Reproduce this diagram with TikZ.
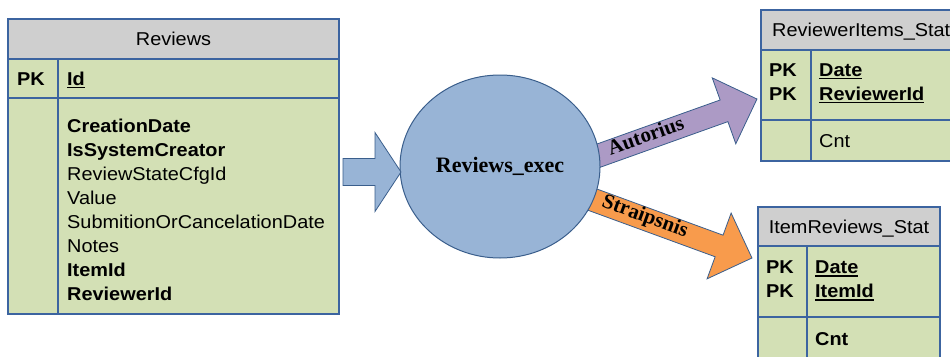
\documentclass[tikz,border=0pt]{standalone}
\usepackage{fontspec}
\setmainfont{Liberation Sans}[FakeStretch=1.07]
\newfontfamily\labelfont{Liberation Serif}
\usetikzlibrary{shapes.geometric}

\definecolor{tblblue}{HTML}{3C64A0}
\definecolor{hdrgray}{HTML}{CFCFCF}
\definecolor{fldgreen}{HTML}{D3E0B5}
\definecolor{execblue}{HTML}{98B4D6}
\definecolor{execedge}{HTML}{3A5E8C}
\definecolor{autpurple}{HTML}{AC9AC5}
\definecolor{strorange}{HTML}{F89B4C}

% underlined key column name
\newcommand\keyul[1]{\setbox0\hbox{#1}\rlap{\rule[-3.2pt]{\wd0}{1.6pt}}\box0}

\tikzset{
  tblline/.style={draw=tblblue, line width=1.2pt},
  txt/.style={inner sep=0pt, anchor=base west, font=\fontsize{18.6}{24}\selectfont},
  btxt/.style={txt, font=\fontsize{18.6}{24}\selectfont\bfseries},
  htxt/.style={inner sep=0pt, anchor=base, font=\fontsize{18.6}{24}\selectfont},
  lbl/.style={inner sep=0pt, anchor=base, font=\labelfont\fontsize{21}{24}\selectfont\bfseries},
  pics/blockarrow/.style args={#1/#2/#3/#4}{code={
    \path[pic actions] (0,-#2) -- ({#1-#4},-#2) -- ({#1-#4},-#3) -- (#1,0)
      -- ({#1-#4},#3) -- ({#1-#4},#2) -- (0,#2) -- cycle;}}
}

\begin{document}
\begin{tikzpicture}[x=1pt,y=-1pt]
\useasboundingbox (0,0) rectangle (950,356);
\clip (0,0) rectangle (950,356);

% ---------- table Reviews ----------
\node[fill=fldgreen, inner sep=0pt, anchor=north west, minimum width=331pt, minimum height=295pt] (reviews) at (8,19) {};
\fill[hdrgray] (8,19) rectangle (339,59);
\draw[tblline] (8,19) rectangle (339,314) (8,59) -- (339,59) (8,98) -- (339,98) (58,59) -- (58,314);
\node[htxt] (revtitle) at (173.5,45.7) {Reviews};
\node[btxt] (revpk) at (17,85) {PK};
\node[btxt] (revid) at (67,85) {\keyul{Id}};
\foreach \t [count=\i from 0] in {{\bfseries CreationDate},{\bfseries IsSystemCreator},
  ReviewStateCfgId,Value,SubmitionOrCancelationDate,Notes,{\bfseries ItemId},{\bfseries ReviewerId}}
  \node[txt] (revf\i) at (67,{132.5+24*\i}) {\t};

% ---------- table ReviewerItems_Stat ----------
\node[fill=fldgreen, inner sep=0pt, anchor=north west, minimum width=220pt, minimum height=151pt] (rstat) at (761,10) {};
\fill[hdrgray] (761,10) rectangle (981,50);
\draw[tblline] (761,10) rectangle (981,161) (761,50) -- (981,50) (761,120) -- (981,120) (811,50) -- (811,161);
\node[txt] (rstattitle) at (772,36.7) {ReviewerItems\_Stat};
\node[btxt] (rstatpka) at (769,76) {PK};
\node[btxt] (rstatpkb) at (769,100) {PK};
\node[btxt] (rstatdate) at (819,76) {\keyul{Date}};
\node[btxt] (rstatrev) at (819,100) {\keyul{ReviewerId}};
\node[txt] (rstatcnt) at (819,147.7) {Cnt};

% ---------- table ItemReviews_Stat ----------
\node[fill=fldgreen, inner sep=0pt, anchor=north west, minimum width=182pt, minimum height=160pt] (istat) at (758,207) {};
\fill[hdrgray] (758,207) rectangle (940,246);
\draw[tblline] (758,207) rectangle (940,367) (758,246) -- (940,246) (758,317) -- (940,317) (807,246) -- (807,367);
\node[htxt] (istattitle) at (849,233.3) {ItemReviews\_Stat};
\node[btxt] (istatpka) at (766,273.3) {PK};
\node[btxt] (istatpkb) at (766,297.3) {PK};
\node[btxt] (istatdate) at (815,273.3) {\keyul{Date}};
\node[btxt] (istatitem) at (815,297.3) {\keyul{ItemId}};
\node[btxt] (istatcnt) at (815,345) {Cnt};

% ---------- block arrows out of the procedure ----------
\coordinate (autstart) at (592,158);
\coordinate (strstart) at (588,198);
\pic[draw=execedge, fill=autpurple, line width=0.8pt, rotate=19.67] at (autstart) {blockarrow=175.2/11.5/35/35};
\pic[draw=execedge, fill=strorange, line width=0.8pt, rotate=-20.1] at (strstart) {blockarrow=174.6/11.5/35/35};

% ---------- procedure ----------
\node[ellipse, draw=execedge, fill=execblue, line width=1pt, inner sep=0pt,
      minimum width=200pt, minimum height=183pt,
      font=\labelfont\fontsize{22}{24}\selectfont\bfseries] (exec) at (500,166.5) {Reviews\_exec};

% ---------- input arrow ----------
\coordinate (instart) at (343,172);
\pic[draw=execedge, fill=execblue, line width=0.8pt] at (instart) {blockarrow=58/13.5/39.5/26};

% ---------- arrow labels ----------
\node[lbl, rotate=19.67] (autlabel) at (648,142) {Autorius};
\node[lbl, rotate=-20.1] (strlabel) at (643,222) {Straipsnis};
\end{tikzpicture}
\end{document}
